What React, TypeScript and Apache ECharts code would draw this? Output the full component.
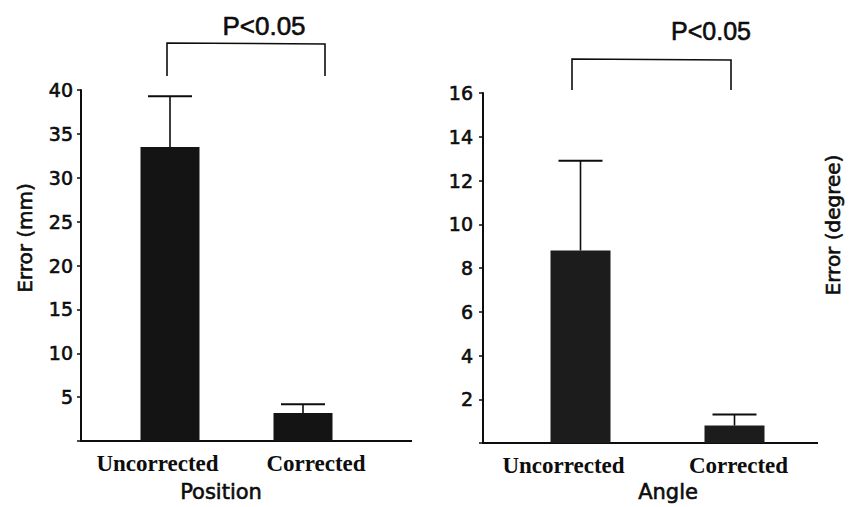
import React, { useEffect, useRef } from "react";
import * as echarts from "echarts";

const categories = ["Uncorrected", "Corrected"];
const positionMean = [33.5, 3.2];
const positionSD = [5.8, 1.0];
const angleMean = [8.8, 0.8];
const angleSD = [4.1, 0.5];
const positionTicks = { min: 0, max: 40, interval: 5 };
const angleTicks = { min: 0, max: 16, interval: 2 };
const pLabel = "P<0.05";

const SANS = "DejaVu Sans";
const SERIF = "Liberation Serif";
const INK = "#0d0d0d";

function errRender(capHalf: number) {
  return (params: any, api: any) => {
    const x = api.value(0);
    const mean = api.value(1);
    const top = api.value(2);
    const p0 = api.coord([x, mean]);
    const p1 = api.coord([x, top]);
    return {
      type: "group",
      children: [
        { type: "line", shape: { x1: p0[0], y1: p0[1], x2: p1[0], y2: p1[1] }, style: { stroke: INK, lineWidth: 1.6 } },
        { type: "line", shape: { x1: p1[0] - capHalf, y1: p1[1], x2: p1[0] + capHalf, y2: p1[1] }, style: { stroke: INK, lineWidth: 2 } },
      ],
    };
  };
}

export default function App() {
  const ref = useRef<HTMLDivElement>(null);
  useEffect(() => {
    if (!ref.current) return;
    const chart = echarts.init(ref.current, undefined, { renderer: "svg" });
    const thick = { textBorderColor: INK, textBorderWidth: 0.6 };
    const yLabel = { fontFamily: SANS, fontSize: 19, color: INK, ...thick };
    const catLabel = { fontFamily: SERIF, fontSize: 23, fontWeight: "bold" as const, color: INK };
    const txt = (text: string, x: number, y: number, font: string, rot = 0) => ({
      type: "text", x, y, rotation: rot,
      style: { text, font, fill: INK, stroke: INK, lineWidth: 0.6, align: "center", verticalAlign: "middle" },
    });
    chart.setOption({
      animation: false,
      backgroundColor: "#ffffff",
      grid: [
        { left: 103.5, top: 90, width: 266, height: 351 },
        { left: 503.5, top: 93, width: 308, height: 350 },
      ],
      xAxis: [
        {
          type: "category", gridIndex: 0, data: categories,
          axisLine: { show: false }, axisTick: { show: false },
          axisLabel: {
            margin: 11, interval: 0,
            formatter: (v: string, i: number) => (i === 0 ? `{a|${v}}` : `{b|${v}}`),
            rich: { a: { ...catLabel, padding: [0, 25, 0, 0] }, b: { ...catLabel, padding: [0, 0, 0, 26] } },
          },
        },
        {
          type: "category", gridIndex: 1, data: categories,
          axisLine: { show: false }, axisTick: { show: false },
          axisLabel: {
            margin: 11, interval: 0,
            formatter: (v: string, i: number) => (i === 0 ? `{a|${v}}` : `{b|${v}}`),
            rich: { a: { ...catLabel, padding: [0, 34, 0, 0] }, b: { ...catLabel, padding: [0, 0, 0, 8] } },
          },
        },
      ],
      yAxis: [
        {
          type: "value", gridIndex: 0, ...positionTicks, offset: 22.5,
          axisLine: { show: true, lineStyle: { color: INK, width: 2 } },
          axisTick: { show: true, length: 4, lineStyle: { color: INK, width: 1.5 } },
          splitLine: { show: false },
          axisLabel: { ...yLabel, margin: 8, formatter: (v: number) => (v === 0 ? "" : String(v)) },
        },
        {
          type: "value", gridIndex: 1, ...angleTicks, offset: 20.5,
          axisLine: { show: true, lineStyle: { color: INK, width: 2 } },
          axisTick: { show: true, length: 4, lineStyle: { color: INK, width: 1.5 } },
          splitLine: { show: false },
          axisLabel: { ...yLabel, margin: 10, formatter: (v: number) => (v === 0 ? "" : String(v)) },
        },
      ],
      series: [
        {
          type: "bar", xAxisIndex: 0, yAxisIndex: 0, data: positionMean, barWidth: 59,
          itemStyle: { color: "#141414" },
        },
        {
          type: "custom", xAxisIndex: 0, yAxisIndex: 0, renderItem: errRender(22),
          data: categories.map((_, i) => [i, positionMean[i], positionMean[i] + positionSD[i]]),
          z: 3,
        },
        {
          type: "bar", xAxisIndex: 1, yAxisIndex: 1, data: angleMean, barWidth: 60,
          itemStyle: { color: "#1c1c1c" },
        },
        {
          type: "custom", xAxisIndex: 1, yAxisIndex: 1, renderItem: errRender(22),
          data: categories.map((_, i) => [i, angleMean[i], angleMean[i] + angleSD[i]]),
          z: 3,
        },
      ],
      graphic: [
        { type: "line", shape: { x1: 80, y1: 441, x2: 412, y2: 441 }, style: { stroke: INK, lineWidth: 2 } },
        { type: "line", shape: { x1: 482, y1: 443, x2: 818, y2: 443 }, style: { stroke: INK, lineWidth: 2 } },
        { type: "polyline", shape: { points: [[167, 76], [167, 43], [325, 44], [325, 76]] }, style: { stroke: INK, lineWidth: 1.6, fill: "none" } },
        { type: "polyline", shape: { points: [[572, 90], [572, 59], [731, 60], [731, 90]] }, style: { stroke: INK, lineWidth: 1.6, fill: "none" } },
        txt(pLabel, 264, 26, "26px 'Liberation Sans'"),
        txt(pLabel, 711, 31, "25px 'Liberation Sans'"),
        txt("Error (mm)", 25, 238, `20px '${SANS}'`, Math.PI / 2),
        txt("Error (degree)", 833, 225, `20px '${SANS}'`, Math.PI / 2),
        txt("Position", 221, 492, `21px '${SANS}'`),
        txt("Angle", 668, 492, `21px '${SANS}'`),
      ],
    });
    return () => chart.dispose();
  }, []);
  return <div ref={ref} style={{ position: "absolute", left: 0, top: 0, width: 853, height: 507 }} />;
}
